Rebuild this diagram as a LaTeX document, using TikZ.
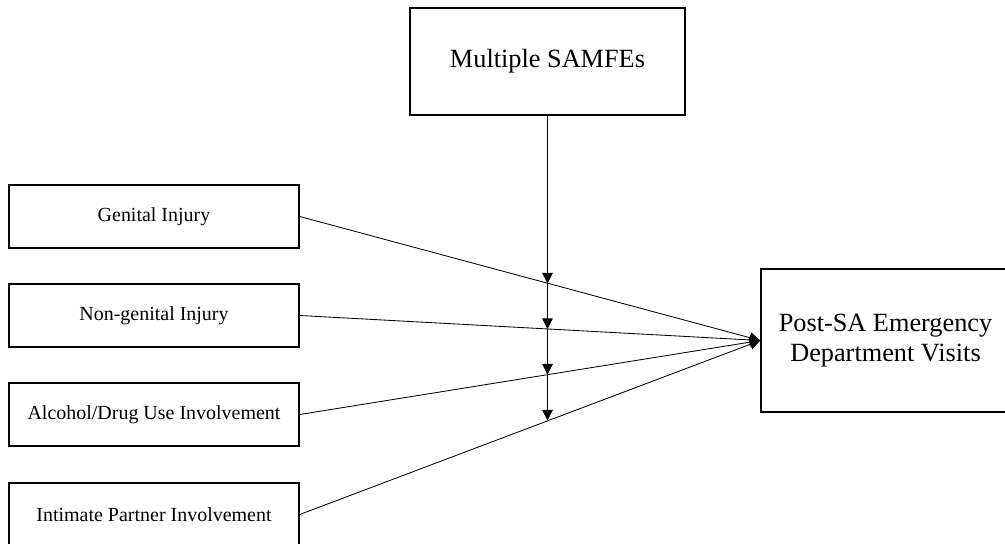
\documentclass[tikz,border=0pt]{standalone}
\usepackage{fontspec}
\setmainfont{Liberation Serif}
\usetikzlibrary{arrows.meta}

\begin{document}
\begin{tikzpicture}[x=0.025cm,y=-0.025cm]
                \tikzstyle{factor} = [rectangle, draw, line width=1pt, minimum width=7.25cm, minimum height=1.575cm, font=\fontsize{14.2}{17}\selectfont]
                \tikzstyle{bigbox} = [rectangle, draw, line width=1pt, align=center, font=\fontsize{18.7}{21.5}\selectfont]
                \tikzstyle{arrow} = [line width=0.6pt, -{Triangle[length=7.5pt,width=7.5pt]}]
                \clip (0,0) rectangle (1005,544);

                \node (samfe) [bigbox, minimum width=6.875cm, minimum height=2.675cm] at (547.5,61.5) {Multiple SAMFEs};
                \node (genital) [factor] at (154,216.5) {Genital Injury};
                \node (nongenital) [factor] at (154,315.5) {Non-genital Injury};
                \node (alcohol) [factor] at (154,414.5) {Alcohol/Drug Use Involvement};
                \node (partner) [factor] at (154,514.5) {Intimate Partner Involvement};
                \node (visits) [bigbox, minimum width=6.225cm, minimum height=3.575cm] at (885.5,340.5) {Post-SA Emergency\\Department Visits};

                \draw [arrow] (genital.east) -- coordinate[pos=0.54] (m1) (visits.west);
                \draw [arrow] (nongenital.east) -- coordinate[pos=0.54] (m2) (visits.west);
                \draw [arrow] (alcohol.east) -- coordinate[pos=0.54] (m3) (visits.west);
                \draw [arrow] (partner.east) -- coordinate[pos=0.54] (m4) (visits.west);

                \draw [arrow] (samfe.south) -- (samfe.south |- m1);
                \draw [arrow] (samfe.south |- m1) -- (samfe.south |- m2);
                \draw [arrow] (samfe.south |- m2) -- (samfe.south |- m3);
                \draw [arrow] (samfe.south |- m3) -- (samfe.south |- m4);
            \end{tikzpicture}
\end{document}
